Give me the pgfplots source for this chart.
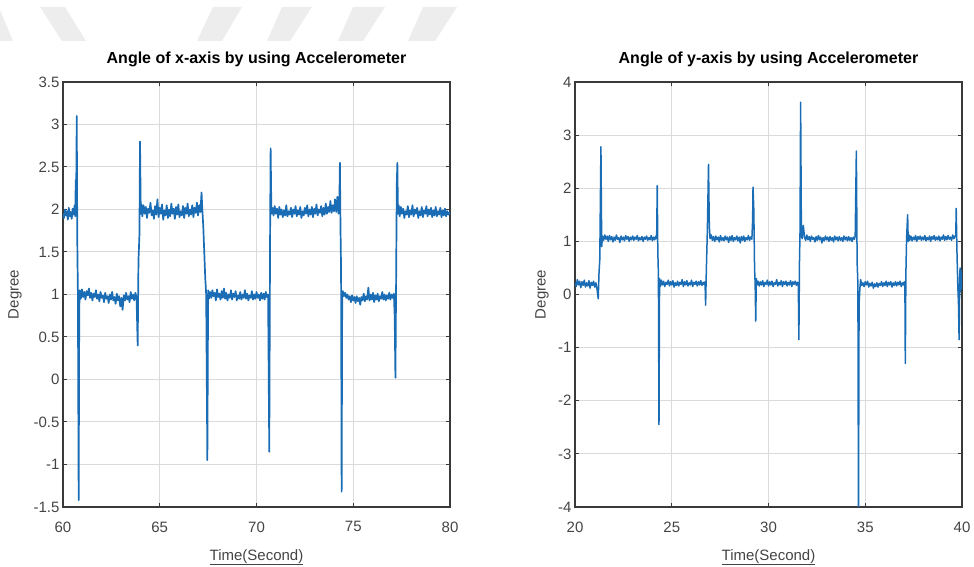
\documentclass[border=0pt]{standalone}
\usepackage{pgfplots}
\pgfplotsset{compat=1.18}
\usepackage{fontspec}
\setmainfont{Liberation Sans}
\definecolor{mblue}{HTML}{1A6DB5}
\definecolor{tickgray}{HTML}{444444}
\definecolor{gridgray}{HTML}{DADADA}
\definecolor{framegray}{HTML}{3A3A3A}
\definecolor{wm}{HTML}{EDEDED}

\pgfplotstableread{
t v
60.00 1.95
60.05 1.90
60.10 2.00
60.15 1.93
60.20 1.98
60.25 1.88
60.30 2.02
60.35 1.92
60.40 1.97
60.45 1.89
60.50 2.01
60.55 1.94
60.60 2.05
60.63 1.92
60.66 2.35
60.68 2.10
60.71 3.10
60.74 1.60
60.77 1.00
60.81 -1.42
60.84 0.85
60.87 1.05
60.92 0.95
60.98 1.06
61.04 0.97
61.10 1.03
61.16 0.94
61.22 1.04
61.28 0.99
61.34 1.07
61.40 0.96
61.46 1.02
61.52 0.93
61.58 1.01
61.64 0.97
61.70 1.05
61.76 0.95
61.82 1.00
61.88 0.92
61.94 1.03
62.00 0.96
62.06 0.99
62.12 0.91
62.18 1.02
62.24 0.95
62.30 0.98
62.36 0.90
62.42 1.00
62.48 0.94
62.54 1.03
62.60 0.93
62.66 0.97
62.72 0.89
62.78 1.01
62.84 0.93
62.90 0.98
62.96 0.86
63.02 0.96
63.08 0.82
63.14 0.99
63.20 0.93
63.26 1.02
63.32 0.94
63.38 0.98
63.44 0.91
63.50 1.03
63.56 0.95
63.62 1.00
63.68 0.93
63.74 1.02
63.80 0.97
63.86 0.40
63.90 1.40
63.95 1.70
63.98 2.80
64.02 1.95
64.06 2.06
64.10 1.92
64.16 2.05
64.22 1.95
64.28 2.03
64.34 1.90
64.40 2.01
64.46 1.96
64.52 2.08
64.58 1.93
64.64 1.99
64.70 1.89
64.76 2.04
64.82 1.94
64.88 2.12
64.94 1.91
65.00 2.02
65.06 1.95
65.12 2.06
65.18 1.88
65.24 1.99
65.30 1.93
65.36 2.05
65.42 1.90
65.48 2.00
65.54 1.92
65.60 2.07
65.66 1.95
65.72 2.01
65.78 1.89
65.84 2.03
65.90 1.94
65.96 2.06
66.02 1.91
66.08 1.98
66.14 1.93
66.20 2.04
66.26 1.90
66.32 2.02
66.38 1.95
66.44 2.07
66.50 1.92
66.56 2.00
66.62 1.94
66.68 2.05
66.74 1.91
66.80 2.02
66.86 1.96
66.92 2.08
66.98 1.93
67.04 2.05
67.10 1.97
67.16 2.20
67.20 2.00
67.25 1.80
67.30 1.50
67.35 1.20
67.40 1.00
67.46 -0.95
67.50 1.05
67.54 0.95
67.60 1.03
67.66 0.96
67.72 1.05
67.78 0.98
67.84 1.02
67.90 0.93
67.96 1.06
68.02 0.97
68.08 1.01
68.14 0.94
68.20 1.04
68.26 0.96
68.32 1.07
68.38 0.95
68.44 1.02
68.50 0.93
68.56 1.00
68.62 0.96
68.68 1.05
68.74 0.94
68.80 1.01
68.86 0.97
68.92 1.04
68.98 0.93
69.04 0.99
69.10 0.95
69.16 1.03
69.22 0.94
69.28 1.00
69.34 0.96
69.40 1.05
69.46 0.95
69.52 1.01
69.58 0.93
69.64 0.99
69.70 0.96
69.76 1.04
69.82 0.94
69.88 1.00
69.94 0.95
70.00 1.03
70.06 0.96
70.12 1.00
70.18 0.93
70.24 1.02
70.30 0.95
70.36 1.01
70.42 0.94
70.48 1.03
70.54 0.97
70.60 1.00
70.66 -0.85
70.70 1.60
70.73 2.72
70.77 1.95
70.82 2.02
70.88 1.93
70.94 2.04
71.00 1.95
71.06 2.01
71.12 1.90
71.18 2.03
71.24 1.94
71.30 2.00
71.36 1.91
71.42 1.99
71.48 1.93
71.54 2.05
71.60 1.92
71.66 1.98
71.72 1.94
71.78 2.02
71.84 1.91
71.90 2.00
71.96 1.95
72.02 2.04
72.08 1.92
72.14 1.99
72.20 1.94
72.26 2.03
72.32 1.90
72.38 1.98
72.44 1.93
72.50 2.02
72.56 1.95
72.62 2.05
72.68 1.92
72.74 2.00
72.80 1.94
72.86 2.03
72.92 1.91
72.98 2.01
73.04 1.95
73.10 2.06
73.16 1.93
73.22 2.00
73.28 1.96
73.34 2.04
73.40 1.92
73.46 2.02
73.52 1.94
73.58 2.07
73.64 1.95
73.70 2.03
73.76 1.97
73.82 2.10
73.88 1.96
73.94 2.05
74.00 1.98
74.06 2.12
74.12 1.97
74.18 2.15
74.24 1.95
74.28 2.05
74.31 2.55
74.34 1.80
74.37 1.30
74.40 -1.32
74.43 1.00
74.46 1.04
74.52 0.98
74.58 1.02
74.64 0.96
74.70 1.00
74.76 0.94
74.82 0.98
74.88 0.91
74.94 0.99
75.00 0.93
75.06 0.97
75.12 0.90
75.18 0.98
75.24 0.92
75.30 0.96
75.36 0.88
75.42 0.97
75.48 0.93
75.54 1.01
75.60 0.92
75.66 0.98
75.72 0.94
75.78 1.08
75.84 0.93
75.90 1.00
75.96 0.94
76.02 1.02
76.08 0.91
76.14 0.99
76.20 0.94
76.26 1.01
76.32 0.92
76.38 0.98
76.44 0.95
76.50 1.03
76.56 0.94
76.62 1.00
76.68 0.93
76.74 0.99
76.80 0.95
76.86 1.02
76.92 0.94
76.98 1.00
77.04 0.96
77.10 1.01
77.14 0.75
77.18 0.02
77.22 1.30
77.25 2.30
77.28 2.55
77.31 1.95
77.35 2.05
77.40 1.92
77.46 2.03
77.52 1.95
77.58 2.01
77.64 1.90
77.70 1.98
77.76 1.94
77.82 2.04
77.88 1.91
77.94 1.99
78.00 1.94
78.06 2.05
78.12 1.92
78.18 2.00
78.24 1.95
78.30 2.02
78.36 1.90
78.42 1.98
78.48 1.93
78.54 2.03
78.60 1.91
78.66 1.99
78.72 1.95
78.78 2.04
78.84 1.92
78.90 2.00
78.96 1.94
79.02 2.02
79.08 1.91
79.14 1.99
79.20 1.93
79.26 2.03
79.32 1.92
79.38 1.98
79.44 1.94
79.50 2.02
79.56 1.91
79.62 1.99
79.68 1.93
79.74 2.01
79.80 1.92
79.86 1.98
79.92 1.94
80.00 1.97
}\xangle

\pgfplotstableread{
t v
20.00 0.22
20.06 0.15
20.12 0.28
20.18 0.18
20.24 0.25
20.30 0.13
20.36 0.24
20.42 0.17
20.48 0.27
20.54 0.14
20.60 0.22
20.66 0.16
20.72 0.26
20.78 0.12
20.84 0.23
20.90 0.17
20.96 0.25
21.02 0.14
21.08 0.22
21.14 0.10
21.20 -0.08
21.24 0.40
21.28 0.65
21.34 2.78
21.38 0.90
21.42 1.10
21.48 1.02
21.54 1.12
21.60 1.04
21.66 1.10
21.72 1.00
21.78 1.11
21.84 1.03
21.90 1.09
21.96 0.99
22.02 1.08
22.08 1.02
22.14 1.12
22.20 1.04
22.26 1.07
22.32 0.98
22.38 1.10
22.44 1.03
22.50 1.08
22.56 1.01
22.62 1.11
22.68 1.04
22.74 1.09
22.80 1.00
22.86 1.08
22.92 1.03
22.98 1.10
23.04 1.02
23.10 1.08
23.16 1.04
23.22 1.11
23.28 1.01
23.34 1.07
23.40 1.03
23.46 1.09
23.52 1.00
23.58 1.08
23.64 1.04
23.70 1.10
23.76 1.02
23.82 1.07
23.88 1.03
23.94 1.11
24.00 1.01
24.06 1.08
24.12 1.03
24.18 1.10
24.22 1.05
24.25 2.05
24.28 0.80
24.31 0.40
24.34 -2.45
24.37 0.30
24.41 0.15
24.46 0.27
24.52 0.18
24.58 0.25
24.64 0.15
24.70 0.23
24.76 0.19
24.82 0.27
24.88 0.16
24.94 0.24
25.00 0.18
25.06 0.26
25.12 0.14
25.18 0.22
25.24 0.17
25.30 0.25
25.36 0.16
25.42 0.23
25.48 0.19
25.54 0.28
25.60 0.15
25.66 0.24
25.72 0.18
25.78 0.26
25.84 0.16
25.90 0.22
25.96 0.18
26.02 0.27
26.08 0.15
26.14 0.23
26.20 0.19
26.26 0.25
26.32 0.16
26.38 0.24
26.44 0.18
26.50 0.26
26.56 0.17
26.62 0.23
26.68 0.19
26.72 0.24
26.75 -0.20
26.79 0.50
26.84 1.20
26.90 2.45
26.94 1.30
26.98 1.05
27.04 1.12
27.10 1.02
27.16 1.09
27.22 1.00
27.28 1.10
27.34 1.03
27.40 1.08
27.46 0.99
27.52 1.11
27.58 1.02
27.64 1.07
27.70 1.01
27.76 1.10
27.82 1.03
27.88 1.08
27.94 0.98
28.00 1.09
28.06 1.02
28.12 1.11
28.18 1.00
28.24 1.07
28.30 1.03
28.36 1.10
28.42 1.01
28.48 1.08
28.54 0.97
28.60 1.09
28.66 1.02
28.72 1.10
28.78 1.00
28.84 1.07
28.90 1.03
28.96 1.11
29.02 1.02
29.08 1.08
29.14 1.04
29.18 1.40
29.20 2.02
29.24 1.60
29.28 0.50
29.31 0.20
29.34 -0.50
29.37 0.30
29.41 0.18
29.46 0.25
29.52 0.16
29.58 0.24
29.64 0.18
29.70 0.26
29.76 0.15
29.82 0.23
29.88 0.19
29.94 0.27
30.00 0.16
30.06 0.24
30.12 0.18
30.18 0.25
30.24 0.15
30.30 0.22
30.36 0.19
30.42 0.28
30.48 0.16
30.54 0.23
30.60 0.18
30.66 0.26
30.72 0.15
30.78 0.24
30.84 0.19
30.90 0.25
30.96 0.16
31.02 0.23
31.08 0.18
31.14 0.26
31.20 0.15
31.26 0.24
31.32 0.19
31.38 0.25
31.44 0.17
31.50 0.23
31.54 0.20
31.57 -0.85
31.60 0.60
31.63 1.20
31.66 3.62
31.70 1.10
31.74 1.05
31.80 1.30
31.86 1.08
31.92 1.02
31.98 1.12
32.04 1.03
32.10 1.09
32.16 1.00
32.22 1.10
32.28 1.04
32.34 1.07
32.40 0.99
32.46 1.09
32.52 1.02
32.58 1.11
32.64 1.03
32.70 1.08
32.76 0.97
32.82 1.07
32.88 1.01
32.94 1.10
33.00 1.03
33.06 1.08
33.12 1.00
33.18 1.09
33.24 1.02
33.30 1.07
33.36 0.99
33.42 1.10
33.48 1.03
33.54 1.08
33.60 1.01
33.66 1.09
33.72 1.02
33.78 1.07
33.84 1.00
33.90 1.10
33.96 1.03
34.02 1.08
34.08 1.01
34.14 1.09
34.20 1.02
34.26 1.07
34.32 1.00
34.38 1.08
34.44 1.04
34.48 1.10
34.54 2.70
34.58 0.60
34.62 0.20
34.65 -4.30
34.68 -0.20
34.72 0.10
34.76 0.28
34.82 0.17
34.88 0.22
34.94 0.15
35.00 0.24
35.06 0.18
35.12 0.25
35.18 0.14
35.24 0.21
35.30 0.16
35.36 0.23
35.42 0.12
35.48 0.20
35.54 0.15
35.60 0.22
35.66 0.14
35.72 0.21
35.78 0.17
35.84 0.24
35.90 0.15
35.96 0.22
36.02 0.17
36.08 0.25
36.14 0.15
36.20 0.23
36.26 0.18
36.32 0.24
36.38 0.14
36.44 0.22
36.50 0.17
36.56 0.24
36.62 0.16
36.68 0.23
36.74 0.18
36.80 0.25
36.86 0.15
36.92 0.22
36.98 0.18
37.02 0.24
37.05 0.10
37.07 -1.30
37.10 0.40
37.14 1.10
37.19 1.50
37.22 1.00
37.26 1.12
37.30 1.02
37.36 1.10
37.42 1.01
37.48 1.08
37.54 1.03
37.60 1.11
37.66 1.00
37.72 1.09
37.78 1.04
37.84 1.10
37.90 1.02
37.96 1.08
38.02 1.03
38.08 1.11
38.14 1.01
38.20 1.07
38.26 1.03
38.32 1.10
38.38 1.00
38.44 1.09
38.50 1.04
38.56 1.11
38.62 1.02
38.68 1.08
38.74 1.03
38.80 1.10
38.86 1.01
38.92 1.08
38.98 1.04
39.04 1.12
39.10 1.02
39.16 1.09
39.22 1.03
39.28 1.11
39.34 1.04
39.40 1.08
39.46 1.02
39.52 1.12
39.58 1.05
39.64 1.10
39.68 1.12
39.70 1.62
39.74 0.80
39.78 0.20
39.82 -0.20
39.85 -0.85
39.88 0.30
39.90 0.50
39.92 0.05
39.94 0.45
39.96 0.10
39.98 0.40
40.00 0.20
}\yangle

\pgfplotsset{
  matlab/.style={
    scale only axis, width=387pt, height=425pt, anchor=south west,
    grid=major, major grid style={gridgray, line width=1pt},
    axis line style={framegray, line width=1.3pt},
    tick align=inside, xtick pos=both, ytick pos=both,
    major tick length=4pt, tick style={framegray, line width=1pt},
    ticklabel style={font=\fontsize{15}{18}\selectfont, text=tickgray},
    /pgf/number format/assume math mode=true,
    title style={font=\bfseries\fontsize{16}{19}\selectfont, at={(0.5,1)}, anchor=base, yshift=12pt},
    xlabel style={font=\fontsize{15}{18}\selectfont, text=tickgray, at={(axis description cs:0.5,-0.118)}, anchor=center},
    ylabel style={font=\fontsize{15}{18}\selectfont, text=tickgray, anchor=center},
    xlabel={\underline{Time(Second)}}, ylabel={Degree},
    xticklabel style={yshift=-11pt},
  }
}

\begin{document}
\begin{tikzpicture}
\path[use as bounding box] (0pt,0pt) rectangle (974pt,567pt);
% faint background watermark
\fill[wm] (0pt,557pt) -- (13pt,526pt) -- (0pt,526pt) -- cycle;
\fill[wm] (40pt,560pt) -- (65pt,560pt) -- (86pt,526pt) -- (62pt,526pt) -- cycle;
\fill[wm] (213pt,560pt) -- (242pt,560pt) -- (222pt,526pt) -- (197pt,526pt) -- cycle;
\fill[wm] (282pt,560pt) -- (312pt,560pt) -- (290pt,526pt) -- (267pt,526pt) -- cycle;
\fill[wm] (353pt,560pt) -- (385pt,560pt) -- (363pt,526pt) -- (338pt,526pt) -- cycle;
\fill[wm] (423pt,560pt) -- (457pt,560pt) -- (435pt,526pt) -- (408pt,526pt) -- cycle;

\begin{axis}[matlab, at={(63pt,60pt)},
  title={Angle of x-axis by using Accelerometer},
  xmin=60, xmax=80, ymin=-1.5, ymax=3.5,
  xtick={60,65,70,75,80},
  ytick={-1.5,-1,-0.5,0,0.5,1,1.5,2,2.5,3,3.5},
  ylabel style={at={(axis description cs:-0.124,0.5)}},
]
\addplot[mblue, line width=1.7pt, line join=round, no marks] table[x=t, y=v] {\xangle};
\end{axis}

\begin{axis}[matlab, at={(575pt,60pt)},
  title={Angle of y-axis by using Accelerometer},
  xmin=20, xmax=40, ymin=-4, ymax=4,
  xtick={20,25,30,35,40},
  ytick={-4,-3,-2,-1,0,1,2,3,4},
  ylabel style={at={(axis description cs:-0.085,0.5)}},
]
\addplot[mblue, line width=1.5pt, line join=round, no marks] table[x=t, y=v] {\yangle};
\end{axis}
\end{tikzpicture}
\end{document}
